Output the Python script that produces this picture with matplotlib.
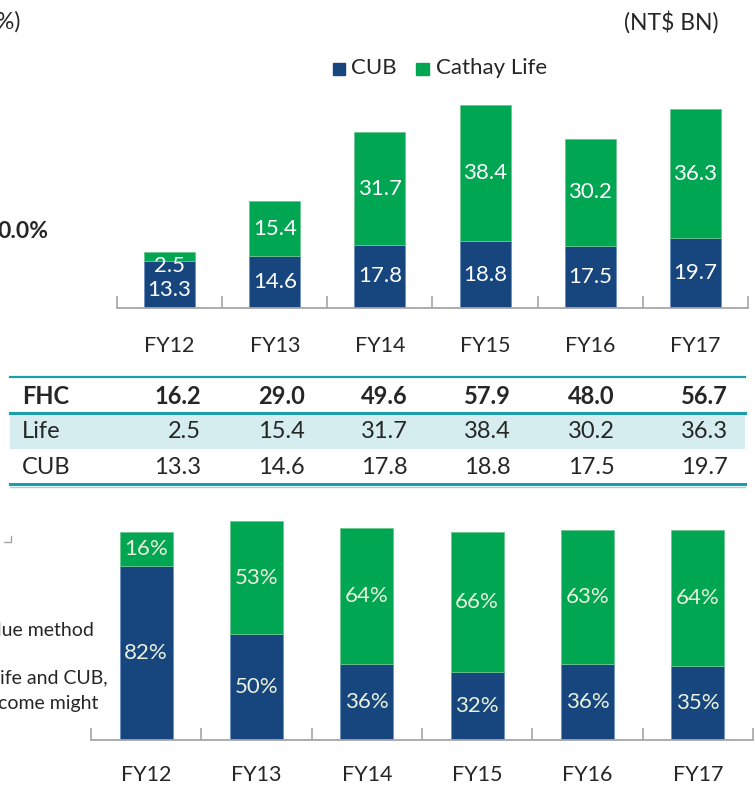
#!/usr/bin/env python3
import numpy as np
import matplotlib
matplotlib.use("Agg")
import matplotlib.pyplot as plt
from matplotlib.patches import Rectangle

years = ['FY12', 'FY13', 'FY14', 'FY15', 'FY16', 'FY17']
cub = [13.3, 14.6, 17.8, 18.8, 17.5, 19.7]
life = [2.5, 15.4, 31.7, 38.4, 30.2, 36.3]
fhc = [16.2, 29.0, 49.6, 57.9, 48.0, 56.7]
cub_pct = [82, 50, 36, 32, 36, 35]
life_pct = [16, 53, 64, 66, 63, 64]

BLUE = '#17467e'
GREEN = '#00a651'
TEAL = '#1b9dab'
GRAY = '#a6a6a6'
TXT = '#262626'

plt.rcParams['font.family'] = ['Lato', 'DejaVu Sans']

W, H = 755, 787
fig = plt.figure(figsize=(W / 100, H / 100), dpi=100)


def px_axes(x0, y_top, x1, y_bot):
	"""axes placed with pixel coordinates (y from top)"""
	return fig.add_axes([x0 / W, 1 - y_bot / H, (x1 - x0) / W, (y_bot - y_top) / H])


def style_axis(ax, n, pad):
	for s in ['top', 'right', 'left']:
		ax.spines[s].set_visible(False)
	ax.spines['bottom'].set_color(GRAY)
	ax.spines['bottom'].set_linewidth(1.3)
	ax.set_yticks([])
	ax.set_xlim(-0.5, n - 0.5)
	ax.set_xticks(np.arange(n + 1) - 0.5, minor=True)
	ax.tick_params(axis='x', which='minor', direction='in', length=9, color=GRAY, width=1.2)
	ax.tick_params(axis='x', which='major', length=0, pad=pad, labelsize=15.5, labelcolor=TXT)
	ax.set_xticks(np.arange(n))
	ax.set_xticklabels(years)
	ax.patch.set_alpha(0)


x = np.arange(len(years))

# ---- top chart: earnings in NT$ BN
ax1 = px_axes(117, 90, 748, 308)
ax1.bar(x, cub, width=0.485, color=BLUE, edgecolor='#6d8fbd', linewidth=0.6)
ax1.bar(x, life, width=0.485, bottom=cub, color=GREEN, edgecolor='#6dc78f', linewidth=0.6)
ax1.set_ylim(0, 61.4)
style_axis(ax1, len(years), 20)
for i in range(len(years)):
	if life[i] < 5:
		# small segment: labels pushed apart like the original
		ax1.annotate(f'{life[i]:.1f}', (x[i], cub[i] + life[i]), xytext=(0, -10),
					 textcoords='offset points', ha='center', va='center', color='white', fontsize=16)
		ax1.annotate(f'{cub[i]:.1f}', (x[i], cub[i] / 2), xytext=(0, -4),
					 textcoords='offset points', ha='center', va='center', color='white', fontsize=16)
	else:
		ax1.text(x[i], cub[i] + life[i] / 2, f'{life[i]:.1f}', ha='center', va='center',
				 color='white', fontsize=16)
		ax1.text(x[i], cub[i] / 2, f'{cub[i]:.1f}', ha='center', va='center',
				 color='white', fontsize=16)

# legend
fig.add_artist(Rectangle((333 / W, 1 - 75 / H), 12 / W, 12 / H, color=BLUE, transform=fig.transFigure))
fig.text(351 / W, 1 - 68 / H, 'CUB', color=TXT, fontsize=16, va='center', ha='left')
fig.add_artist(Rectangle((416 / W, 1 - 75 / H), 13 / W, 12 / H, color=GREEN, transform=fig.transFigure))
fig.text(436 / W, 1 - 68 / H, 'Cathay Life', color=TXT, fontsize=16, va='center', ha='left')
fig.text(718 / W, 1 - 22 / H, '(NT$ BN)', color=TXT, fontsize=16.5, va='center', ha='right')

# cropped slide text on the left edge
fig.text(20 / W, 1 - 22 / H, '%)', color=TXT, fontsize=16.5, va='center', ha='right')
fig.text(48 / W, 1 - 232 / H, '0.0%', color=TXT, fontsize=16.5, va='center', ha='right', weight='bold')
fig.text(94 / W, 1 - 630 / H, 'lue method', color=TXT, fontsize=14, va='center', ha='right')
fig.text(108 / W, 1 - 678 / H, 'Life and CUB,', color=TXT, fontsize=14, va='center', ha='right')
fig.text(98 / W, 1 - 704 / H, 'come might', color=TXT, fontsize=14, va='center', ha='right')

# ---- table
tab = px_axes(0, 360, W, 495)
tab.set_xlim(0, W)
tab.set_ylim(495, 360)
tab.axis('off')
tab.axhspan(413, 449, xmin=10 / W, xmax=745 / W, color='#d6edf0', lw=0)
tab.plot([10, 745], [377, 377], color=TEAL, lw=1.6)
tab.plot([10, 745], [413, 413], color=TEAL, lw=2.2)
tab.plot([10, 745], [484, 484], color=TEAL, lw=2.2)
tab.plot([10, 745], [487, 487], color='#9fd3da', lw=1.0)
col_right = [201, 305, 408, 511, 615, 728]
rows = [('FHC', fhc, 396, 'bold'), ('Life', life, 432, 'normal'), ('CUB', cub, 468, 'normal')]
for name, vals, yy, wt in rows:
	tab.text(22, yy, name, ha='left', va='center', fontsize=17, color=TXT, weight=wt)
	for cx, v in zip(col_right, vals):
		tab.text(cx, yy, f'{v:.1f}', ha='right', va='center', fontsize=17, color=TXT, weight=wt)

# small corner mark
fig.add_artist(plt.Line2D([4 / W, 11 / W, 11 / W], [1 - 542 / H, 1 - 542 / H, 1 - 536 / H],
						  color=GRAY, lw=1.0))

# ---- bottom chart: contribution share
ax2 = px_axes(91, 500, 753, 740)
ax2.bar(x, cub_pct, width=0.48, color=BLUE, edgecolor='#6d8fbd', linewidth=0.6)
ax2.bar(x, life_pct, width=0.48, bottom=cub_pct, color=GREEN, edgecolor='#6dc78f', linewidth=0.6)
ax2.set_ylim(0, 113)
style_axis(ax2, len(years), 18)
for i in range(len(years)):
	ax2.text(x[i], cub_pct[i] / 2, f'{cub_pct[i]}%', ha='center', va='center',
			 color='#eaf1dd', fontsize=16)
	ax2.text(x[i], cub_pct[i] + life_pct[i] / 2, f'{life_pct[i]}%', ha='center', va='center',
			 color='#eaf1dd', fontsize=16)

fig.savefig('out.png', dpi=100)
